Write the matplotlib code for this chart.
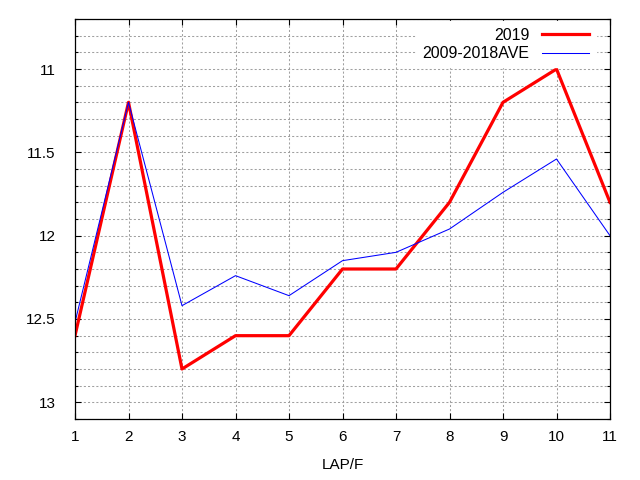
import matplotlib
matplotlib.use("Agg")
import matplotlib.pyplot as plt
from matplotlib.ticker import MultipleLocator

plt.rcParams['font.family'] = ['Liberation Sans', 'DejaVu Sans']

laps = [1, 2, 3, 4, 5, 6, 7, 8, 9, 10, 11]
y2019 = [12.6, 11.2, 12.8, 12.6, 12.6, 12.2, 12.2, 11.8, 11.2, 11.0, 11.8]
ave = [12.52, 11.2, 12.42, 12.24, 12.36, 12.15, 12.10, 11.96, 11.74, 11.54, 12.0]

fig = plt.figure(figsize=(6.4, 4.8), dpi=100)
ax = fig.add_axes([75 / 640, 1 - 419 / 480, 535 / 640, 400 / 480])

ax.plot(laps, y2019, color="#ff0000", lw=2.3, label="2019", zorder=3)
ax.plot(laps, ave, color="#0000ff", lw=0.75, label="2009-2018AVE", zorder=3)

ax.set_xlim(1, 11)
ax.set_ylim(13.1, 10.7)
ax.xaxis.set_major_locator(MultipleLocator(1))
ax.yaxis.set_major_locator(MultipleLocator(0.5))
ax.yaxis.set_minor_locator(MultipleLocator(0.1))
ax.yaxis.set_major_formatter(plt.FuncFormatter(lambda v, p: "%g" % v))

ax.grid(which="both", axis="y", color="#a0a0a0", ls=(0, (2, 2)), lw=0.75)
ax.grid(which="major", axis="x", color="#a0a0a0", ls=(0, (2, 2)), lw=0.75)

ax.tick_params(which="both", direction="in", top=True, right=True, labelsize=11, width=0.8)
ax.tick_params(which="major", length=4.5, pad=8)
ax.tick_params(which="minor", length=2.5)
ax.tick_params(axis="y", pad=14)
for s in ax.spines.values():
    s.set_linewidth(0.9)
    s.set_zorder(7)

ax.set_xlabel("LAP/F", fontsize=11, labelpad=10)

leg = ax.legend(loc="upper right", bbox_to_anchor=(1 - 11 / 535, 1 + 1 / 400), markerfirst=False,
                fontsize=11.5, handlelength=2.95,
                frameon=True, fancybox=False, framealpha=1, edgecolor="white",
                borderaxespad=0.2, labelspacing=0.22, handletextpad=0.8)
for t in leg.get_texts():
    t.set_ha("right")
leg.set_zorder(5)

fig.savefig("out.png", dpi=100)
